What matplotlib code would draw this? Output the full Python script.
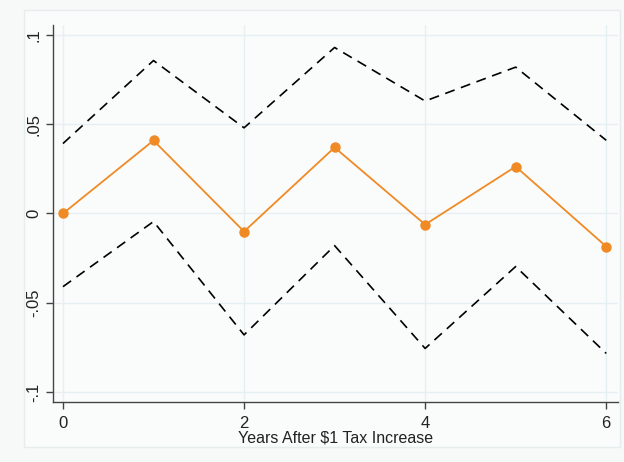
import matplotlib
matplotlib.use("Agg")
import matplotlib.pyplot as plt
from matplotlib.patches import Rectangle

plt.rcParams["font.family"] = ["Liberation Sans", "DejaVu Sans"]

years = [0, 1, 2, 3, 4, 5, 6]
estimate = [0.0, 0.0409, -0.0101, 0.0370, -0.0062, 0.0263, -0.0185]
upper_ci = [0.0392, 0.0857, 0.0480, 0.0930, 0.0630, 0.0820, 0.0410]
lower_ci = [-0.0410, -0.0045, -0.0680, -0.0180, -0.0756, -0.0297, -0.0784]
yticks = [-0.1, -0.05, 0, 0.05, 0.1]
ytick_labels = ["-.1", "-.05", "0", ".05", ".1"]
xticks = [0, 2, 4, 6]

fig = plt.figure(figsize=(6.24, 4.62), dpi=100)
fig.patch.set_facecolor("#f7f8f8")
# inner plot region frame (Stata style), kept behind the axes
fig.patches.append(Rectangle((24 / 624, 1 - 447 / 462), 596 / 624, 437 / 462,
                             transform=fig.transFigure, facecolor="#fafbfb",
                             edgecolor="#e6edef", linewidth=1.0, zorder=-5))

ax = fig.add_axes([53 / 624, 1 - 402 / 462, 565 / 624, 377 / 462])
ax.set_facecolor("#fafbfb")

ax.plot(years, upper_ci, color="black", linestyle=(0, (6, 4)), linewidth=1.2)
ax.plot(years, lower_ci, color="black", linestyle=(0, (6, 4)), linewidth=1.2)
ax.plot(years, estimate, color="#f08a24", linewidth=1.3, marker="o",
        markersize=6.5, markeredgecolor="#f08a24", markerfacecolor="#f08a24")

ax.set_xlim(-0.11, 6.13)
ax.set_ylim(-0.1056, 0.1056)
ax.set_xticks(xticks)
ax.set_yticks(yticks)
ax.set_yticklabels(ytick_labels, rotation=90, va="center")
ax.tick_params(direction="out", length=5, width=1, color="#444444",
               labelsize=12, labelcolor="#222222")
ax.tick_params(axis="x", pad=5)
ax.grid(True, color="#e6f0f2", linewidth=1.0)
ax.set_axisbelow(True)
for side in ["top", "right"]:
    ax.spines[side].set_visible(False)
for side in ["left", "bottom"]:
    ax.spines[side].set_color("#444444")
    ax.spines[side].set_linewidth(1.0)

ax.set_xlabel("Years After \\$1 Tax Increase", fontsize=11.5, color="#222222",
              labelpad=0)

fig.savefig("out.png", dpi=100, facecolor=fig.get_facecolor())
